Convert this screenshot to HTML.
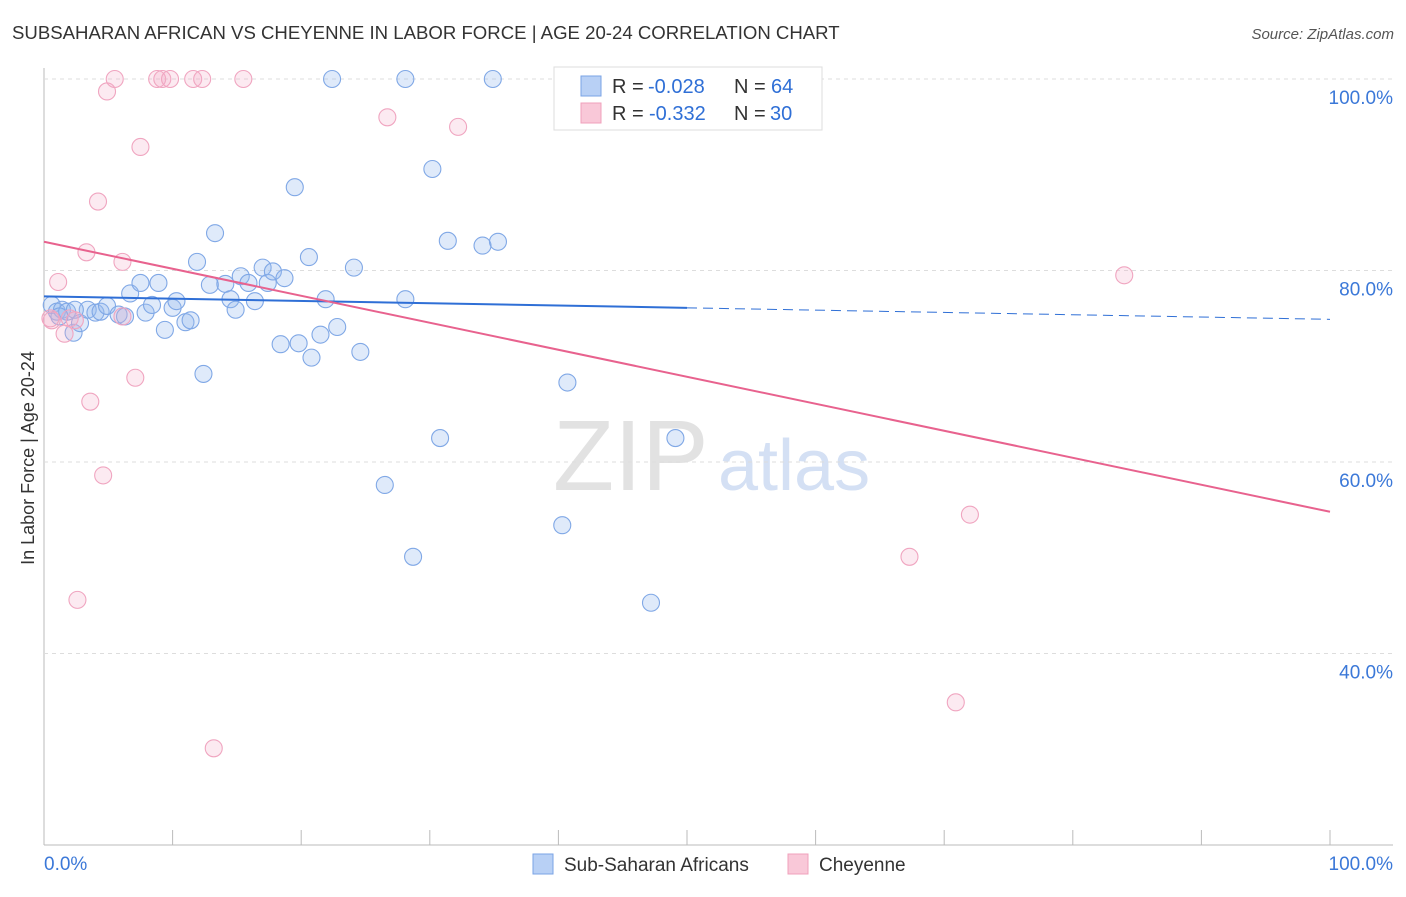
<!DOCTYPE html>
<html><head><meta charset="utf-8"><style>
body{margin:0;background:#fff;font-family:"Liberation Sans",sans-serif;}
svg text{font-family:"Liberation Sans",sans-serif;}
</style></head><body>
<svg id="c" width="1406" height="892">
<text x="12" y="39" font-size="18.6" fill="#333">SUBSAHARAN AFRICAN VS CHEYENNE IN LABOR FORCE | AGE 20-24 CORRELATION CHART</text>
<text x="1394" y="39" font-size="15" fill="#555" font-style="italic" text-anchor="end">Source: ZipAtlas.com</text>
<text x="34" y="458" font-size="18" fill="#333" text-anchor="middle" transform="rotate(-90 34 458)">In Labor Force | Age 20-24</text>
<g><text x="553" y="490" font-size="100" font-family="Liberation Serif" fill="#e2e2e2">ZIP</text><text x="718" y="490" font-size="72" fill="#d4e0f4">atlas</text></g>
<g id="grid"></g><g id="marks"></g>
<g>
<rect x="554" y="67" width="268" height="63" fill="#fff" stroke="#ddd"/>
<rect x="581" y="76" width="20" height="20" fill="#b8d0f5" stroke="#7aa3e5"/>
<rect x="581" y="103" width="20" height="20" fill="#f9c8d8" stroke="#f0a0bb"/>
<text x="612" y="93" font-size="20" fill="#333">R =</text><text x="648" y="93" font-size="20" fill="#2f6fd6">-0.028</text>
<text x="734" y="93" font-size="20" fill="#333">N =</text><text x="771" y="93" font-size="20" fill="#2f6fd6">64</text>
<text x="612" y="120" font-size="20" fill="#333">R =</text><text x="649" y="120" font-size="20" fill="#2f6fd6">-0.332</text>
<text x="734" y="120" font-size="20" fill="#333">N =</text><text x="770" y="120" font-size="20" fill="#2f6fd6">30</text>
</g>
<g>
<rect x="533" y="854" width="20" height="20" fill="#b8d0f5" stroke="#7aa3e5"/>
<text x="564" y="871" font-size="19" fill="#333">Sub-Saharan Africans</text>
<rect x="788" y="854" width="20" height="20" fill="#f9c8d8" stroke="#f0a0bb"/>
<text x="819" y="871" font-size="19" fill="#333">Cheyenne</text>
</g>
</svg>
<script>
const yTicks=[40,60,80,100];
const xTickLabels=["0.0%","100.0%"];
const blueX=[0.6,1.0,1.4,1.8,2.3,2.8,3.4,4.0,4.4,4.9,5.8,6.3,6.7,7.5,7.9,8.4,8.9,9.4,10.0,10.3,11.0,11.4,11.9,12.4,12.9,13.3,14.1,14.5,14.9,15.3,15.9,16.4,17.0,17.4,17.8,18.7,18.4,19.5,19.8,20.6,20.8,21.5,21.9,22.8,22.4,24.1,24.6,26.5,28.1,28.1,28.7,30.2,30.8,31.4,34.1,34.9,35.3,40.3,40.7,47.2,49.1,42.1,2.4,1.2];
const blueY=[76.4,75.7,75.9,75.7,73.5,74.5,75.9,75.6,75.7,76.3,75.4,75.2,77.6,78.7,75.6,76.4,78.7,73.8,76.1,76.8,74.6,74.8,80.9,69.2,78.5,83.9,78.6,77.0,75.9,79.4,78.7,76.8,80.3,78.7,79.9,79.2,72.3,88.7,72.4,81.4,70.9,73.3,77.0,74.1,100,80.3,71.5,57.6,100,77.0,50.1,90.6,62.5,83.1,82.6,100,83.0,53.4,68.3,45.3,62.5,100,75.9,75.2];
const pinkX=[0.6,1.1,1.6,2.0,2.6,3.3,3.6,4.2,4.6,4.9,5.5,6.1,6.1,7.1,7.5,8.8,9.2,9.8,11.6,12.3,13.2,15.5,26.7,32.2,67.3,70.9,72.0,84.0,2.4,0.5];
const pinkY=[74.8,78.8,73.4,75.0,45.6,81.9,66.3,87.2,58.6,98.7,100,80.9,75.2,68.8,92.9,100,100,100,100,100,30.1,100,96.0,95.0,50.1,34.9,54.5,79.5,74.8,75.0];
const blueTrend=[77.3,74.9];
const pinkTrend=[83.0,54.8];
const X=v=>44+v*12.86, Y=v=>79+(100-v)*9.575;
const NS="http://www.w3.org/2000/svg";
function mk(t,a,p){const e=document.createElementNS(NS,t);for(const k in a)e.setAttribute(k,a[k]);p.appendChild(e);return e;}
const g=document.getElementById('grid'),m=document.getElementById('marks');
const ax=mk('line',{x1:44,y1:845,x2:1393,y2:845,stroke:'#bbb'},g);


const ay=mk('line',{x1:44,y1:68,x2:44,y2:845,stroke:'#bbb'},g);


for(let i=1;i<=10;i++){const t=mk('line',{x1:X(i*10),y1:830,x2:X(i*10),y2:845,stroke:'#bbb'},g);

}
yTicks.forEach(v=>{const l=mk('line',{x1:44,y1:Y(v),x2:1393,y2:Y(v),stroke:'#ddd','stroke-dasharray':'4 4'},g);


const t=mk('text',{x:1393,y:Y(v)+25,'font-size':19,fill:'#3b78d8','text-anchor':'end'},g);t.textContent=v.toFixed(1)+'%';

});
[[0,44,'start'],[1,1393,'end']].forEach(([i,x,a])=>{const t=mk('text',{x:x,y:870,'font-size':19,fill:'#3b78d8','text-anchor':a},g);t.textContent=xTickLabels[i];

});
function pts(xs,ys,fill,stroke,name){xs.forEach((x,i)=>{const c=mk('circle',{cx:X(x),cy:Y(ys[i]),r:8.5,fill:fill,stroke:stroke,'stroke-width':1.1},m);

});}
pts(blueX,blueY,'rgba(150,185,240,0.3)','#80a8e6','subsaharan-point');
pts(pinkX,pinkY,'rgba(245,170,200,0.25)','#f0a5c0','cheyenne-point');
const bt=v=>blueTrend[0]+(blueTrend[1]-blueTrend[0])*v/100;
const b1=mk('line',{x1:X(0),y1:Y(bt(0)),x2:X(50),y2:Y(bt(50)),stroke:'#2f6fd6','stroke-width':2},m);


const b2=mk('line',{x1:X(50),y1:Y(bt(50)),x2:X(100),y2:Y(bt(100)),stroke:'#2f6fd6','stroke-width':1,'stroke-dasharray':'10 6'},m);


const p1=mk('line',{x1:X(0),y1:Y(pinkTrend[0]),x2:X(100),y2:Y(pinkTrend[1]),stroke:'#e8628e','stroke-width':2},m);


</script>
</body></html>
